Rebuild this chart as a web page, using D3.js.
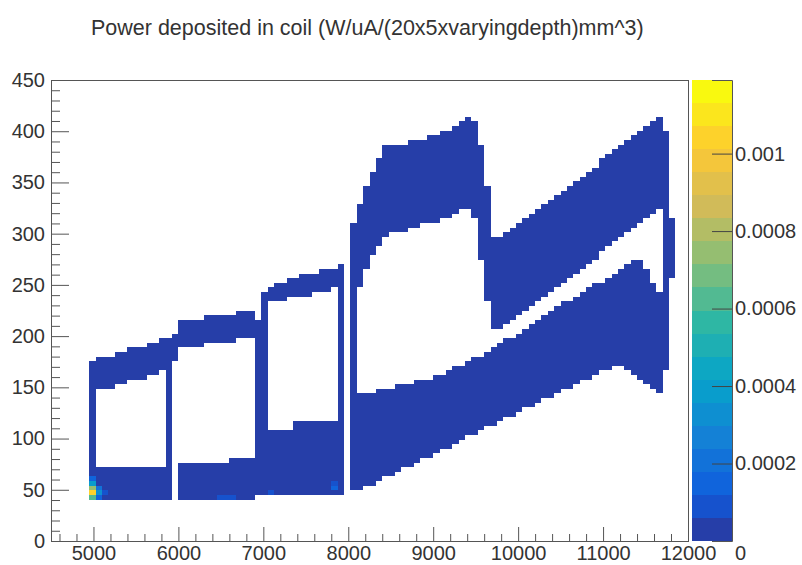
<!DOCTYPE html>
<html>
<head>
<meta charset="utf-8">
<script src="https://cdn.jsdelivr.net/npm/d3@7"></script>
<style>
  body { margin: 0; background: #fff; }
  svg { display: block; }
  text { font-family: "Liberation Sans", Arial, Helvetica, sans-serif; fill: #333; }
</style>
</head>
<body>
<svg id="chart" width="802" height="565"></svg>
<script>
// ---- histogram definition ----
const title = "Power deposited in coil (W/uA/(20x5xvaryingdepth)mm^3)";
const xDomain = [4500, 12000];
const yDomain = [0, 450];
const zMax = 0.00119;
const nBinsX = 100;
const nBinsY = 100;
const nContours = 20;

const xMajorTicks = [5000, 6000, 7000, 8000, 9000, 10000, 11000, 12000];
const yMajorTicks = [0, 50, 100, 150, 200, 250, 300, 350, 400, 450];
const zTicks = [0, 0.0002, 0.0004, 0.0006, 0.0008, 0.001];
const zTickLabels = ["0", "0.0002", "0.0004", "0.0006", "0.0008", "0.001"];

// coil cross-section outlines, [x, y] in mm
const coil1Outer = [[4930,40],[4930,165],[4950,176],[5300,184],[5600,191],[5910,199],[5915,45],[5880,40]];
const coil1Hole  = [[4995,71],[4995,145],[5300,153],[5600,160],[5870,168],[5870,74]];
const coil2Outer = [[5965,40],[5962,200],[5975,214],[6300,218],[6600,222],[6930,227],[6940,215],[6940,47],[6900,40]];
const coil2Hole  = [[6020,76],[6020,180],[6040,188],[6400,192],[6880,198],[6900,190],[6900,80]];
const coil3Outer = [[7010,45],[7000,230],[7010,245],[7300,255],[7600,262],[7940,270],[7960,255],[7962,50],[7920,45]];
const coil3Hole  = [[7060,110],[7060,225],[7070,232],[7400,238],[7900,247],[7905,115],[7350,115],[7350,110]];
const coil4Outer = [[8044,48],[8021,80],[8021,299],[8080,318],[8197,343],[8350,372],[8433,385],[8845,391],
                    [9198,403],[9375,414],[9457,416],[9551,391],[9646,343],[9704,297],[9822,297],[10964,370],
                    [11647,414],[11694,416],[11765,391],[11788,333],[11824,304],[11824,260],[11765,245],
                    [11753,177],[11694,144],[11635,144],[11200,174],[8103,48]];
const coil4Hole  = [[8103,144],[8103,235],[8162,255],[8280,279],[8433,297],[8609,302],[9080,313],[9410,326],
                    [9457,327],[9528,294],[9610,245],[9704,206],[9787,206],[10729,265],[11647,323],[11683,323],
                    [11683,242],[11671,242],[11435,276],[10493,230],[9728,189],[9080,162],[8374,147]];

const coils = [
  { outer: coil1Outer, hole: coil1Hole },
  { outer: coil2Outer, hole: coil2Hole },
  { outer: coil3Outer, hole: coil3Hole },
  { outer: coil4Outer, hole: coil4Hole }
];

// typical deposited power in the coil body
const bodyLevel = 0.00002;
// bins with higher deposition, [x, y, value]
const hotBins = [
  [4990, 47, 0.00105], [4990, 52, 0.00075], [4990, 43, 0.00060], [4990, 57, 0.00040],
  [5060, 47, 0.00035], [5060, 52, 0.00022], [4990, 62, 0.00012], [5060, 43, 0.00015],
  [5135, 47, 0.00008], [6460, 44, 0.00008], [6540, 44, 0.00010], [6615, 44, 0.00007],
  [7840, 52, 0.00012], [7840, 57, 0.00008], [7090, 48, 0.00007]
];

// ---- ROOT "bird" palette ----
const stops = [0.0000, 0.1250, 0.2500, 0.3750, 0.5000, 0.6250, 0.7500, 0.8750, 1.0000];
const red   = [0.2082, 0.0592, 0.0780, 0.0232, 0.1802, 0.5301, 0.8186, 0.9956, 0.9764];
const green = [0.1664, 0.3599, 0.5041, 0.6419, 0.7178, 0.7492, 0.7328, 0.7862, 0.9832];
const blue  = [0.5293, 0.8684, 0.8385, 0.7914, 0.6425, 0.4662, 0.3499, 0.1968, 0.0539];

function buildGradient(n) {
  const out = [];
  for (let g = 1; g < stops.length; g++) {
    const a = Math.floor(stops[g - 1] * n), b = Math.floor(stops[g] * n);
    const len = b - a;
    for (let c = 0; c < len; c++) {
      const f = c / len;
      out.push(d3.rgb(
        255 * (red[g - 1] + f * (red[g] - red[g - 1])),
        255 * (green[g - 1] + f * (green[g] - green[g - 1])),
        255 * (blue[g - 1] + f * (blue[g] - blue[g - 1]))
      ).formatHex());
    }
  }
  return out;
}
const gradient = buildGradient(255);
const levelColor = k => gradient[Math.min(gradient.length - 1, Math.floor((k + 0.99) * gradient.length / nContours))];
const levelOf = v => Math.max(0, Math.min(nContours - 1, Math.floor(v / zMax * nContours)));

// ---- layout ----
const frame = { left: 51, right: 688, top: 80, bottom: 541 };
const pal = { left: 692, right: 732 };
const svg = d3.select("#chart");

const x = d3.scaleLinear().domain(xDomain).range([frame.left, frame.right]);
const y = d3.scaleLinear().domain(yDomain).range([frame.bottom, frame.top]);
const z = d3.scaleLinear().domain([0, zMax]).range([frame.bottom, frame.top]);

// ---- fill histogram bins ----
const bw = (xDomain[1] - xDomain[0]) / nBinsX;
const bh = (yDomain[1] - yDomain[0]) / nBinsY;
const bins = new Map();
for (let i = 0; i < nBinsX; i++) {
  for (let j = 0; j < nBinsY; j++) {
    const c = [xDomain[0] + (i + 0.5) * bw, yDomain[0] + (j + 0.5) * bh];
    for (const coil of coils) {
      if (d3.polygonContains(coil.outer, c) && !d3.polygonContains(coil.hole, c)) {
        bins.set(i + "," + j, { i, j, v: bodyLevel });
        break;
      }
    }
  }
}
for (const [hx, hy, v] of hotBins) {
  const i = Math.floor((hx - xDomain[0]) / bw), j = Math.floor((hy - yDomain[0]) / bh);
  bins.set(i + "," + j, { i, j, v });
}
const cells = Array.from(bins.values());

svg.append("g")
  .attr("shape-rendering", "crispEdges")
  .selectAll("rect")
  .data(cells)
  .join("rect")
  .attr("x", d => Math.round(x(xDomain[0] + d.i * bw)))
  .attr("y", d => Math.round(y(yDomain[0] + (d.j + 1) * bh)))
  .attr("width", d => Math.round(x(xDomain[0] + (d.i + 1) * bw)) - Math.round(x(xDomain[0] + d.i * bw)))
  .attr("height", d => Math.round(y(yDomain[0] + d.j * bh)) - Math.round(y(yDomain[0] + (d.j + 1) * bh)))
  .attr("fill", d => levelColor(levelOf(d.v)));

// ---- axes ----
const axisColor = "#555";
function styleAxis(g) {
  g.select(".domain").remove();
  g.selectAll("line").attr("stroke", axisColor);
  g.selectAll("text").attr("fill", "#333").style("font-size", "20px");
}

const xMinor = d3.range(4600, 12000, 200).filter(v => !xMajorTicks.includes(v));
svg.append("g").attr("transform", `translate(0,${frame.bottom})`)
  .call(d3.axisBottom(x).tickValues(xMinor).tickSize(-7).tickFormat(""))
  .call(styleAxis);
svg.append("g").attr("transform", `translate(0,${frame.bottom})`)
  .call(d3.axisBottom(x).tickValues(xMajorTicks).tickSize(-14).tickPadding(6).tickFormat(d3.format("d")))
  .call(styleAxis)
  .call(g => g.selectAll("text").attr("dy", "0.71em").attr("y", 5));

const yMinor = d3.range(10, 450, 10).filter(v => !yMajorTicks.includes(v));
svg.append("g").attr("transform", `translate(${frame.left},0)`)
  .call(d3.axisLeft(y).tickValues(yMinor).tickSize(-9).tickFormat(""))
  .call(styleAxis);
svg.append("g").attr("transform", `translate(${frame.left},0)`)
  .call(d3.axisLeft(y).tickValues(yMajorTicks).tickSize(-18).tickPadding(6).tickFormat(d3.format("d")))
  .call(styleAxis)
  .call(g => g.selectAll("text").attr("x", -6));

// frame
svg.append("rect")
  .attr("x", frame.left).attr("y", frame.top)
  .attr("width", frame.right - frame.left).attr("height", frame.bottom - frame.top)
  .attr("fill", "none").attr("stroke", axisColor).attr("stroke-width", 1)
  .attr("shape-rendering", "crispEdges");

// ---- colour palette ----
const levels = d3.range(nContours);
svg.append("g").attr("shape-rendering", "crispEdges")
  .selectAll("rect")
  .data(levels)
  .join("rect")
  .attr("x", pal.left)
  .attr("width", pal.right - pal.left)
  .attr("y", k => Math.round(z((k + 1) * zMax / nContours)))
  .attr("height", k => Math.round(z(k * zMax / nContours)) - Math.round(z((k + 1) * zMax / nContours)))
  .attr("fill", k => levelColor(k));

svg.append("g").attr("transform", `translate(${pal.right},0)`)
  .call(d3.axisRight(z).tickValues(zTicks).tickSize(-20).tickPadding(3).tickFormat((d, i) => zTickLabels[i]))
  .call(g => g.select(".domain").attr("stroke", axisColor))
  .call(g => g.selectAll("line").attr("stroke", "#444"))
  .call(g => g.selectAll("text").attr("fill", "#333").style("font-size", "20px"))
  .call(g => g.selectAll(".tick").filter(d => d === 0).select("line").remove())
  .call(g => g.selectAll(".tick").filter(d => d === 0).select("text").attr("dy", "0.9em"));

// ---- title ----
svg.append("text")
  .attr("x", 91).attr("y", 35)
  .style("font-size", "21.5px")
  .text(title);
</script>
</body>
</html>
